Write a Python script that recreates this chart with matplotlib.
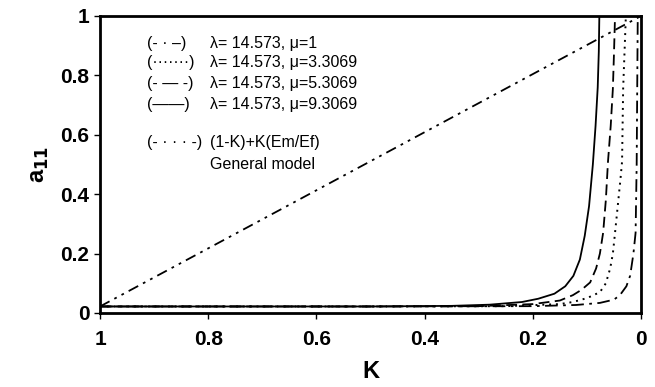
import numpy as np
import matplotlib.pyplot as plt

# (K, a11)
k_mu1 = [1.0, 0.5, 0.2, 0.12, 0.076, 0.05, 0.039, 0.027, 0.02, 0.014, 0.010, 0.008, 0.007, 0.006]
a_mu1 = [0.022, 0.022, 0.023, 0.027, 0.034, 0.045, 0.06, 0.09, 0.126, 0.2, 0.27, 0.5, 0.755, 1.0]

k_mu3 = [1.0, 0.5, 0.25, 0.15, 0.126, 0.1, 0.076, 0.065, 0.057, 0.052, 0.048, 0.043,
         0.038, 0.035, 0.033, 0.030, 0.028]
a_mu3 = [0.022, 0.022, 0.023, 0.03, 0.037, 0.05, 0.07, 0.1, 0.15, 0.2, 0.27, 0.36,
         0.45, 0.51, 0.755, 0.9, 1.0]

k_mu5 = [1.0, 0.5, 0.3, 0.2, 0.15, 0.126, 0.11, 0.094, 0.083, 0.076, 0.07, 0.065,
         0.061, 0.056, 0.052, 0.050, 0.048]
a_mu5 = [0.022, 0.022, 0.023, 0.03, 0.042, 0.06, 0.078, 0.103, 0.15, 0.2, 0.27, 0.38,
         0.51, 0.63, 0.755, 0.87, 1.0]

k_mu9 = [1.0, 0.5, 0.35, 0.28, 0.22, 0.19, 0.16, 0.14, 0.125, 0.113, 0.104, 0.096,
         0.089, 0.084, 0.080, 0.078, 0.077]
a_mu9 = [0.022, 0.022, 0.024, 0.028, 0.037, 0.048, 0.065, 0.09, 0.125, 0.18, 0.26, 0.36,
         0.5, 0.63, 0.76, 0.88, 1.0]

k_gen = [1.0, 0.0]
a_gen = [0.022, 1.0]

legend_marks = ['(- · –)', '(·······)', '(- — -)', '(——)', '(- · · · -)']
legend_text = ['λ= 14.573, μ=1', 'λ= 14.573, μ=3.3069', 'λ= 14.573, μ=5.3069',
               'λ= 14.573, μ=9.3069', '(1-K)+K(Em/Ef)']

plt.rcParams['font.family'] = ['Liberation Sans', 'DejaVu Sans']

fig = plt.figure(figsize=(6.55, 3.87), dpi=100)
ax = fig.add_axes([100/655, 1 - 313/387, 541/655, 297/387])

ax.plot(k_mu1, a_mu1, color='k', lw=1.3, linestyle=(0, (7, 3, 1.5, 3)))
ax.plot(k_mu3, a_mu3, color='k', lw=1.4, linestyle=(0, (1, 2.5)))
ax.plot(k_mu5, a_mu5, color='k', lw=1.3, linestyle=(0, (6, 3)))
ax.plot(k_mu9, a_mu9, color='k', lw=1.3, linestyle='-')
ax.plot(k_gen, a_gen, color='k', lw=1.3, linestyle=(0, (6, 3, 1.5, 3, 1.5, 3)))

ax.set_xlim(1, 0)
ax.set_ylim(0.017, 1)
ax.set_xticks([1, 0.8, 0.6, 0.4, 0.2, 0])
ax.set_xticklabels(['1', '0.8', '0.6', '0.4', '0.2', '0'])
ax.set_yticks([0, 0.2, 0.4, 0.6, 0.8, 1])
ax.set_yticklabels(['0', '0.2', '0.4', '0.6', '0.8', '1'])
for s in ax.spines.values():
    s.set_linewidth(2)
ax.tick_params(labelsize=15, width=1, length=4)
ax.tick_params(axis='x', pad=8)
for lab in ax.get_xticklabels() + ax.get_yticklabels():
    lab.set_fontweight('bold')
ax.set_xlabel('K', fontsize=17, fontweight='bold', labelpad=8)
ax.set_ylabel('a$_{\\mathbf{11}}$', fontsize=17, fontweight='bold', labelpad=7)

ys = [0.907, 0.844, 0.772, 0.702, 0.573]
for m, t, y in zip(legend_marks, legend_text, ys):
    ax.text(0.913, y, m, fontsize=11.5, va='center')
    ax.text(0.797, y, t, fontsize=11.5, va='center')
ax.text(0.797, 0.50, 'General model', fontsize=11.5, va='center')

fig.savefig('out.png', dpi=100)
